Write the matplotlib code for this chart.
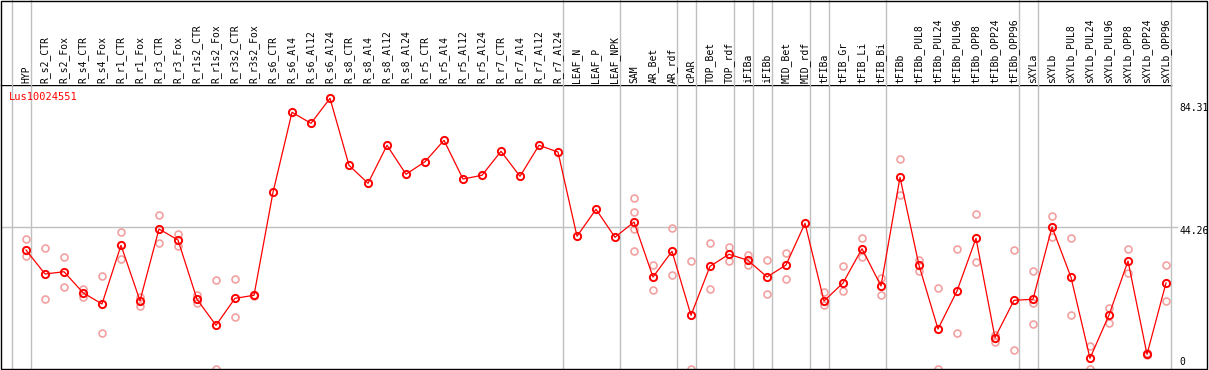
import matplotlib
matplotlib.use("Agg")
import matplotlib.pyplot as plt
from matplotlib.patches import Rectangle
from matplotlib.transforms import blended_transform_factory

# ─── 0. DATA ─────────────────────────────────────────────────────────────────

GENE = "Lus10024551"

SAMPLES = [
    "HYP", "R_s2_CTR", "R_s2_Fox", "R_s4_CTR", "R_s4_Fox", "R_r1_CTR", "R_r1_Fox",
    "R_r3_CTR", "R_r3_Fox", "R_r1s2_CTR", "R_r1s2_Fox", "R_r3s2_CTR", "R_r3s2_Fox",
    "R_s6_CTR", "R_s6_Al4", "R_s6_Al12", "R_s6_Al24", "R_s8_CTR", "R_s8_Al4",
    "R_s8_Al12", "R_s8_Al24", "R_r5_CTR", "R_r5_Al4", "R_r5_Al12", "R_r5_Al24",
    "R_r7_CTR", "R_r7_Al4", "R_r7_Al12", "R_r7_Al24", "LEAF_N", "LEAF_P", "LEAF_NPK",
    "SAM", "AR_Bet", "AR_rdf", "cPAR", "TOP_Bet", "TOP_rdf", "iFIBa", "iFIBb",
    "MID_Bet", "MID_rdf", "tFIBa", "tFIB_Gr", "tFIB_Li", "tFIB_Bi", "tFIBb",
    "tFIBb_PUL8", "tFIBb_PUL24", "tFIBb_PUL96", "tFIBb_OPP8", "tFIBb_OPP24",
    "tFIBb_OPP96", "sXYLa", "sXYLb", "sXYLb_PUL8", "sXYLb_PUL24", "sXYLb_PUL96",
    "sXYLb_OPP8", "sXYLb_OPP24", "sXYLb_OPP96",
]

MEANS = [
    37.12, 29.65, 30.36, 23.83, 20.32, 38.58, 21.34, 43.65, 40.23, 21.78, 13.69,
    22.09, 23.02, 55.07, 79.95, 76.53, 84.31, 63.47, 57.87, 69.69, 60.67, 64.59,
    71.24, 59.20, 60.36, 67.82, 60.04, 69.69, 67.60, 41.38, 49.78, 41.07, 45.83,
    28.72, 36.71, 16.80, 32.04, 35.78, 33.91, 28.72, 32.45, 45.42, 21.25, 26.85,
    37.52, 25.92, 59.73, 32.36, 12.54, 24.36, 40.76, 9.83, 21.47, 21.78, 44.27,
    28.62, 3.42, 16.89, 33.69, 4.67, 26.85,
]

# individual replicates (empty when only the mean is shown)
REPLICATES = [
    [40.54, 35.34], [37.64, 21.78], [34.84, 25.70], [24.89, 22.59], [28.93, 11.20],
    [42.62, 34.32], [22.59, 19.79], [47.91, 39.20], [42.09, 38.27], [23.12, 20.72],
    [27.69, 0.0], [28.00, 16.18], [23.21, 22.71],
    [], [], [], [], [], [], [], [], [], [], [], [], [], [], [], [], [], [], [],
    [53.20, 48.84, 43.65, 36.71], [32.36, 24.58], [43.87, 29.24], [33.60, 0.0],
    [39.20, 24.89], [37.96, 33.79], [35.56, 32.45], [33.91, 23.33], [36.18, 28.19],
    [], [24.05, 19.91], [32.14, 24.45], [40.76, 34.84], [28.31, 23.12],
    [65.33, 54.13], [34.00, 30.68], [25.20, 0.0], [37.33, 11.20], [48.22, 33.29],
    [10.67, 8.59], [37.02, 5.91], [30.49, 20.72, 14.00], [47.60, 41.07],
    [40.76, 16.80], [7.25, 0.0], [18.98, 14.31], [37.33, 29.87], [5.07, 4.45],
    [32.36, 21.16],
]

Y_TICKS = [0, 44.26, 84.31]
Y_TICK_LABELS = ["0", "44.26", "84.31"]

# index of the last sample of each group (grey separators)
GROUP_ENDS = [-1, 0, 28, 31, 34, 35, 37, 38, 39, 41, 42, 45, 52, 53, 60]

# ─── 1. LAYOUT (pixels) ──────────────────────────────────────────────────────

W, H = 1209, 370
LEFT, RIGHT = 1, 1171
HEAD_Y, BOT_Y = 85, 369.3
X0, DX = 26, 19          # pixel of first column, column spacing
TOP_VAL_PX = 98.3        # pixel row of the maximum value
GREY = "#c0c0c0"
MONO = "DejaVu Sans Mono"


def fx(px):
    return px / W


def fy(py):
    return 1 - py / H


fig = plt.figure(figsize=(W / 100, H / 100), dpi=100)
ax = fig.add_axes([fx(LEFT), fy(BOT_Y), fx(RIGHT - LEFT), fy(HEAD_Y) - fy(BOT_Y)])
axh = fig.add_axes([fx(LEFT), fy(HEAD_Y), fx(RIGHT - LEFT), fy(0) - fy(HEAD_Y)], sharex=ax)

ax.set_xlim((LEFT - X0) / DX, (RIGHT - X0) / DX)
px_per_unit = (BOT_Y - TOP_VAL_PX) / max(MEANS)
ax.set_ylim(0, (BOT_Y - HEAD_Y) / px_per_unit)

for a in (ax, axh):
    a.tick_params(left=False, bottom=False, labelleft=False, labelbottom=False)
    for sp in a.spines.values():
        sp.set_visible(False)
ax.spines["top"].set_visible(True)
ax.spines["top"].set_linewidth(1)

# ─── 2. GRID / SEPARATORS ────────────────────────────────────────────────────

for g in GROUP_ENDS:
    ax.axvline(g + 0.26, color=GREY, lw=1, zorder=1, clip_on=False)
    axh.axvline(g + 0.26, color=GREY, lw=1, zorder=1, clip_on=False)

ax.axhline(Y_TICKS[1], color=GREY, lw=1, zorder=1, xmax=1.005, clip_on=False)

# ─── 3. DATA ─────────────────────────────────────────────────────────────────

rep_x = [i for i, reps in enumerate(REPLICATES) for _ in reps]
rep_y = [v for reps in REPLICATES for v in reps]
ax.plot(rep_x, rep_y, "o", ms=5, mfc="none", mec="#f2a0a0", mew=1.2, zorder=2)

ax.plot(range(len(MEANS)), MEANS, "-o", color="red", lw=0.9, ms=5.2,
        mfc="none", mew=1.4, zorder=3)

# ─── 4. TEXT ─────────────────────────────────────────────────────────────────

head_trans = blended_transform_factory(axh.transData, axh.transAxes)
for i, s in enumerate(SAMPLES):
    axh.annotate(s, xy=(i, 0), xycoords=head_trans, xytext=(0, 2),
                 textcoords="offset pixels", rotation=90, ha="center", va="bottom",
                 fontsize=7, family=MONO, color="black")

ax.annotate(GENE, xy=(0, 1), xycoords="axes fraction", xytext=(8, -12),
            textcoords="offset pixels", ha="left", va="center",
            fontsize=7.5, family=MONO, color="red")

tick_trans = blended_transform_factory(ax.transAxes, ax.transData)
for v, lab, dy in zip(Y_TICKS, Y_TICK_LABELS, [7, -4, -10]):
    ax.annotate(lab, xy=(1, v), xycoords=tick_trans, xytext=(8, dy),
                textcoords="offset pixels", ha="left", va="center",
                fontsize=7, family=MONO, color="black", annotation_clip=False)

# outer frame
fig.add_artist(Rectangle((fx(1), fy(BOT_Y)), fx(1207 - 1), fy(0.5) - fy(BOT_Y),
                         transform=fig.transFigure, fill=False, ec="black", lw=1))

fig.savefig("out.png", dpi=100)
